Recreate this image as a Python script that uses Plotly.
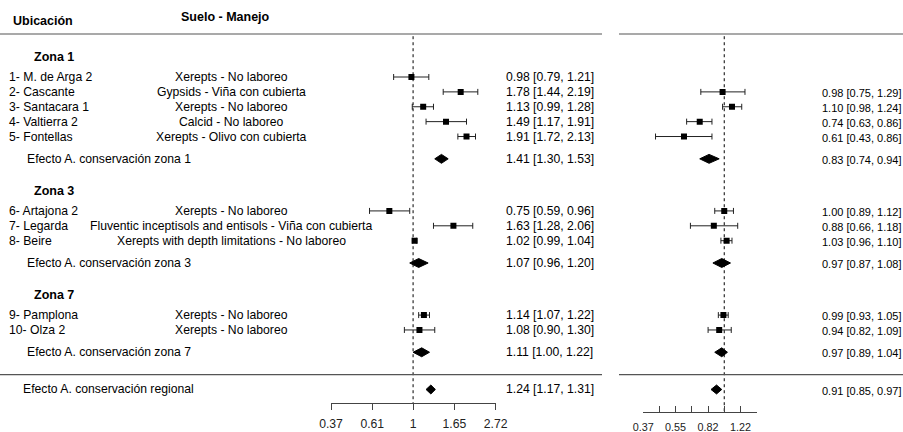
import math
import plotly.graph_objects as go

# ---------------- data ----------------
studies = ["1- M. de Arga 2", "2- Cascante", "3- Santacara 1", "4- Valtierra 2", "5- Fontellas",
           "6- Artajona 2", "7- Legarda", "8- Beire", "9- Pamplona", "10- Olza 2"]
suelo = ["Xerepts - No laboreo", "Gypsids - Viña con cubierta", "Xerepts - No laboreo",
         "Calcid - No laboreo", "Xerepts - Olivo con cubierta",
         "Xerepts - No laboreo", "Fluventic inceptisols and entisols - Viña con cubierta",
         "Xerepts with depth limitations - No laboreo",
         "Xerepts - No laboreo", "Xerepts - No laboreo"]
zones = ["Zona 1", "Zona 3", "Zona 7"]
zone_sizes = [5, 3, 2]
zone_effect_labels = ["Efecto A. conservación zona 1", "Efecto A. conservación zona 3",
                      "Efecto A. conservación zona 7"]
regional_label = "Efecto A. conservación regional"

left_est = [0.98, 1.78, 1.13, 1.49, 1.91, 0.75, 1.63, 1.02, 1.14, 1.08]
left_lo = [0.79, 1.44, 0.99, 1.17, 1.72, 0.59, 1.28, 0.99, 1.07, 0.90]
left_hi = [1.21, 2.19, 1.28, 1.91, 2.13, 0.96, 2.06, 1.04, 1.22, 1.30]
left_zone_est = [1.41, 1.07, 1.11]
left_zone_lo = [1.30, 0.96, 1.00]
left_zone_hi = [1.53, 1.20, 1.22]
left_reg = [1.24, 1.17, 1.31]

right_est = [None, 0.98, 1.10, 0.74, 0.61, 1.00, 0.88, 1.03, 0.99, 0.94]
right_lo = [None, 0.75, 0.98, 0.63, 0.43, 0.89, 0.66, 0.96, 0.93, 0.82]
right_hi = [None, 1.29, 1.24, 0.86, 0.86, 1.12, 1.18, 1.10, 1.05, 1.09]
right_zone_est = [0.83, 0.97, 0.97]
right_zone_lo = [0.74, 0.87, 0.89]
right_zone_hi = [0.94, 1.08, 1.04]
right_reg = [0.91, 0.85, 0.97]

left_tick_vals = [0.37, 0.61, 1, 1.65, 2.72]
left_tick_text = ["0.37", "0.61", "1", "1.65", "2.72"]
right_tick_vals = [0.37, 0.45, 0.55, 0.67, 0.82, 1.0, 1.22, 1.49]
right_tick_text = ["0.37", "", "0.55", "", "0.82", "", "1.22", ""]

# ---------------- layout geometry ----------------
W, H = 903, 432
PX0, PXU = 77.0, 14.88          # pixel of first row, pixels per row unit


def px2u(p):
    return (p - PX0) / PXU


def fx(p):
    return p / W


FONT = "Arial, Liberation Sans, sans-serif"
FS = 12.2

# row positions
study_y, zone_head_y, zone_eff_y = [], [], []
y = 0.0
for zs in zone_sizes:
    zone_head_y.append(y - 1.35)
    for _ in range(zs):
        study_y.append(y)
        y += 1
    zone_eff_y.append(y + 0.5)
    y += 4.0
sep_y = zone_eff_y[-1] + 1.5
reg_y = sep_y + 1.0
header_y = px2u(20.5)
header_line_y = px2u(34)

L_AXIS_PX, R_AXIS_PX = 403, 412
left_dom = [fx(331), fx(495.7)]
right_dom = [fx(643.3), fx(756.7)]

fig = go.Figure()

ERR = dict(type="data", symmetric=False, color="#222", thickness=1, width=3)


def fmt(e, l, h):
    return f"{e:.2f} [{l:.2f}, {h:.2f}]"


def add_panel(xa, est, lo, hi, zest, zlo, zhi, reg, axis_px):
    idx = [i for i, e in enumerate(est) if e is not None]
    fig.add_trace(go.Scatter(
        x=[est[i] for i in idx], y=[study_y[i] for i in idx], mode="markers",
        marker=dict(symbol="square", size=6, color="black"),
        error_x=dict(array=[hi[i] - est[i] for i in idx],
                     arrayminus=[est[i] - lo[i] for i in idx], **ERR),
        xaxis=xa, yaxis="y", showlegend=False, hoverinfo="skip"))
    hh = 0.3
    for e, l, h, yy in list(zip(zest, zlo, zhi, zone_eff_y)) + [(reg[0], reg[1], reg[2], reg_y)]:
        fig.add_trace(go.Scatter(
            x=[l, e, h, e, l], y=[yy, yy - hh, yy, yy + hh, yy], mode="lines",
            fill="toself", fillcolor="black", line=dict(color="black", width=1),
            xaxis=xa, yaxis="y", showlegend=False, hoverinfo="skip"))
    fig.add_trace(go.Scatter(
        x=[1, 1], y=[header_line_y + 0.15, px2u(axis_px)], mode="lines",
        line=dict(color="black", width=1, dash="dot"),
        xaxis=xa, yaxis="y", showlegend=False, hoverinfo="skip"))


add_panel("x", left_est, left_lo, left_hi, left_zone_est, left_zone_lo, left_zone_hi, left_reg, L_AXIS_PX)
add_panel("x2", right_est, right_lo, right_hi, right_zone_est, right_zone_lo, right_zone_hi, right_reg, R_AXIS_PX)

ann = []


def text(x, yy, s, size=FS, bold=False, anchor="left"):
    ann.append(dict(x=fx(x), y=yy, xref="paper", yref="y", text=f"<b>{s}</b>" if bold else s,
                    showarrow=False, xanchor=anchor, yanchor="middle", borderpad=0,
                    font=dict(family=FONT, size=size, color="black")))


text(12, header_y, "Ubicación", 12.5, True)
text(225, px2u(17), "Suelo - Manejo", 12.5, True, "center")
for z, yy in zip(zones, zone_head_y):
    text(33, yy, z, 12.5, True)
for i, yy in enumerate(study_y):
    text(8, yy, studies[i])
    text(231, yy, suelo[i], anchor="center")
    text(505, yy, fmt(left_est[i], left_lo[i], left_hi[i]))
    if right_est[i] is not None:
        text(821, yy + 0.07, fmt(right_est[i], right_lo[i], right_hi[i]), 11)
for k, yy in enumerate(zone_eff_y):
    text(26, yy, zone_effect_labels[k])
    text(505, yy, fmt(left_zone_est[k], left_zone_lo[k], left_zone_hi[k]))
    text(821, yy + 0.07, fmt(right_zone_est[k], right_zone_lo[k], right_zone_hi[k]), 11)
text(22, reg_y, regional_label)
text(505, reg_y, fmt(*left_reg))
text(821, reg_y + 0.07, fmt(*right_reg), 11)

shapes = []
for yy in (header_line_y, sep_y):
    shapes.append(dict(type="line", xref="paper", yref="y", x0=0, x1=fx(602), y0=yy, y1=yy,
                       line=dict(color="#555", width=1.2)))
    shapes.append(dict(type="line", xref="paper", yref="y", x0=fx(619), x1=1, y0=yy, y1=yy,
                       line=dict(color="#555", width=1.2)))

AX = dict(type="log", showgrid=False, zeroline=False, showline=True, linecolor="#444",
          linewidth=1, tickcolor="#444", ticklen=6, tickwidth=1, anchor="free",
          fixedrange=True)

fig.update_layout(
    width=W, height=H, margin=dict(l=0, r=0, t=0, b=0, autoexpand=False),
    paper_bgcolor="white", plot_bgcolor="rgba(0,0,0,0)",
    font=dict(family=FONT, color="black"),
    xaxis=dict(domain=left_dom,
               range=[math.log10(min(left_tick_vals)), math.log10(max(left_tick_vals))],
               tickvals=left_tick_vals, ticktext=left_tick_text, ticks="outside",
               ticklabelstandoff=3,
               position=1 - L_AXIS_PX / H, tickfont=dict(size=12.2, color="#222"), **AX),
    xaxis2=dict(domain=right_dom,
                range=[math.log10(min(right_tick_vals)), math.log10(max(right_tick_vals))],
                tickvals=right_tick_vals, ticktext=right_tick_text, ticks="inside",
                ticklabelstandoff=5,
                position=1 - R_AXIS_PX / H, tickfont=dict(size=10.8, color="#222"), **AX),
    yaxis=dict(domain=[0, 1], range=[px2u(H), px2u(0)], visible=False, fixedrange=True,
               anchor="x"),
    annotations=ann, shapes=shapes, showlegend=False,
)

fig.write_html("out.html", config={"displayModeBar": False},
               post_script="document.body.style.margin='0';document.body.style.overflow='hidden';")
